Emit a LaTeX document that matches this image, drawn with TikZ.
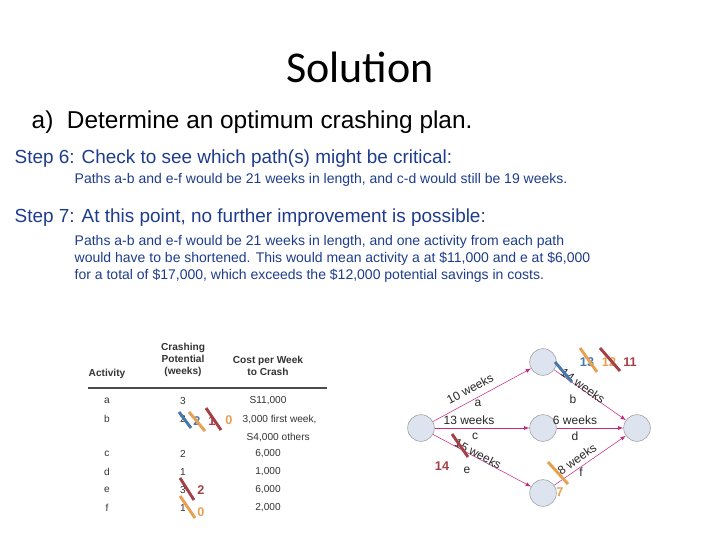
\documentclass[tikz,border=0pt]{standalone}
\usepackage{fontspec}
\setmainfont{Liberation Sans}
\newfontfamily\calfont{Carlito}
\begin{document}
\begin{tikzpicture}[x=0.75pt,y=-0.75pt,
  circ/.style={circle,draw=gray!80,fill={rgb,255:red,221;green,228;blue,239},minimum size=20pt,inner sep=0pt},
  edge/.style={draw={rgb,255:red,200;green,40;blue,130},->,>=latex},
  tb/.style={font=\fontsize{7.6}{9}\selectfont,text=black!80},
  tbh/.style={font=\bfseries\fontsize{7.6}{9}\selectfont,text=black!80},
  el/.style={font=\fontsize{9}{10}\selectfont,text=black!85,inner sep=0pt},
  strk/.style={line width=2.2pt},
  num/.style={font=\bfseries\fontsize{9.5}{10}\selectfont,inner sep=0pt}]
\definecolor{sb}{RGB}{70,120,170}
\definecolor{so}{RGB}{230,160,80}
\definecolor{sr}{RGB}{165,65,70}
\definecolor{tblue}{RGB}{30,60,140}
\useasboundingbox (0,0) rectangle (720,540);
\node[font=\calfont\fontsize{33}{36}\selectfont] (title) at (360,67) {Solution};
\node[anchor=west,font=\fontsize{18.3}{20}\selectfont] (a) at (27,122) {a)\ \ Determine an optimum crashing plan.};
\node[anchor=west,text=tblue,font=\fontsize{14.2}{16}\selectfont] (s6) at (10,159) {Step 6: Check to see which path(s) might be critical:};
\node[anchor=west,text=tblue,font=\fontsize{10.5}{12}\selectfont] (p6) at (70,180) {Paths a-b and e-f would be 21 weeks in length, and c-d would still be 19 weeks.};
\node[anchor=west,text=tblue,font=\fontsize{14.2}{16}\selectfont] (s7) at (10,218) {Step 7: At this point, no further improvement is possible:};
\node[anchor=north west,text=tblue,align=left,font=\fontsize{10.5}{12.75}\selectfont] (p7) at (70,231) {Paths a-b and e-f would be 21 weeks in length, and one activity from each path\\would have to be shortened. This would mean activity a at \$11,000 and e at \$6,000\\for a total of \$17,000, which exceeds the \$12,000 potential savings in costs.};
% table
\node[tbh] (h1) at (107,374) {Activity};
\node[tbh,align=center] (h2) at (183,360) {Crashing\\Potential\\(weeks)};
\node[tbh,align=center] (h3) at (268,366) {Cost per Week\\to Crash};
\coordinate (l1) at (88,388); \coordinate (l2) at (327,388);
\draw[black!70,line width=0.8pt] (l1) -- (l2);
\foreach \n/\y/\pp/\cc in {a/401/3/S11{,}000, b/419/2/, c/454/2/6{,}000, d/472/1/1{,}000, e/490/3/6{,}000, f/508/1/2{,}000}{
  \node[tb] (r\n) at (107,\y) {\n};
  \node[tb] (p\n) at (183,\y) {\pp};
  \node[tb] (c\n) at (268,\y) {\cc};
}
\node[tb,anchor=west] (cb) at (238,419) {3,000 first week,};
\node[tb,anchor=west] (cb2) at (242,437) {S4,000 others};
% table strikes
\draw[sb,strk] (179,412) -- (191,428);
\node[num,text=sb] (t2) at (197,421) {2};
\draw[so,strk] (189,412) -- (205,431);
\draw[sr,strk] (206,408) -- (221,430);
\node[num,text=sr] (t1) at (212,421) {1};
\node[num,text=so] (t0) at (229,420) {0};
\draw[sr,strk] (180,478) -- (194,500);
\node[num,text=sr] (te2) at (201,490) {2};
\draw[so,strk] (180,496) -- (195,518);
\node[num,text=so] (tf0) at (201,512) {0};
% network
\node[circ] (L) at (421,428) {};
\node[circ] (T) at (543,362) {};
\node[circ] (M) at (543,428) {};
\node[circ] (B) at (543,493) {};
\node[circ] (R) at (637,428) {};
\draw[edge] (L) -- (T);
\draw[edge] (L) -- (M);
\draw[edge] (L) -- (B);
\draw[edge] (T) -- (R);
\draw[edge] (M) -- (R);
\draw[edge] (B) -- (R);
\node[el,rotate=28] (la) at (470,389) {10 weeks};
\node[el] (la2) at (478,403) {a};
\node[el,rotate=-35] (lb) at (583,386) {14 weeks};
\node[el] (lb2) at (573,399) {b};
\node[el] (lc) at (469,420) {13 weeks};
\node[el] (lc2) at (475,436) {c};
\node[el] (ld) at (575,420) {6 weeks};
\node[el] (ld2) at (575,436) {d};
\node[el,rotate=-28] (le) at (478,454) {15 weeks};
\node[el] (le2) at (467,470) {e};
\node[el,rotate=35] (lf) at (577,459) {8 weeks};
\node[el] (lf2) at (581,472) {f};
% network strikes
\draw[sb,strk] (555,362) -- (572,382);
\node[num,text=sb] (n13) at (587,362) {13};
\draw[so,strk] (580,348) -- (597,372);
\node[num,text=so] (n12) at (609,362) {12};
\draw[sr,strk] (600,348) -- (620,371);
\node[num,text=sr] (n11) at (630,362) {11};
\draw[sr,strk] (452,434) -- (468,457);
\node[num,text=sr] (n14) at (442,466) {14};
\draw[so,strk] (548,462) -- (568,484);
\node[num,text=so] (n7) at (560,492) {7};
\end{tikzpicture}
\end{document}
